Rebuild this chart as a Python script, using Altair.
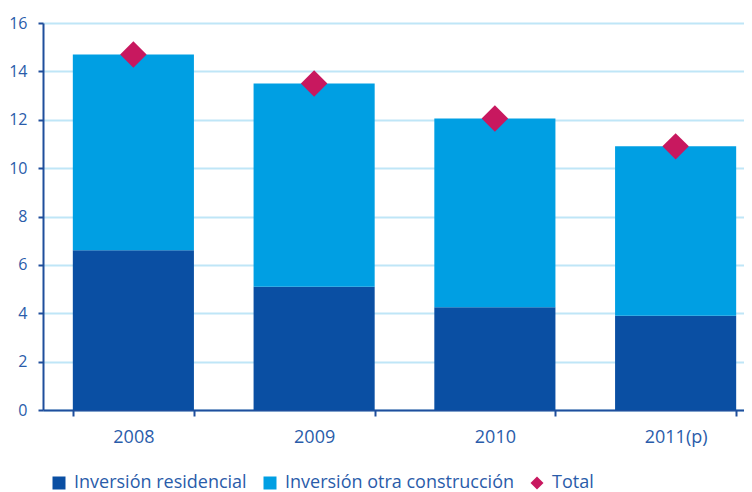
import altair as alt
import pandas as pd

years = ["2008", "2009", "2010", "2011(p)"]
residencial = [6.6, 5.1, 4.25, 3.9]
otra = [8.1, 8.4, 7.8, 7.0]
total = [14.7, 13.5, 12.05, 10.9]
series = ["Inversión residencial", "Inversión otra construcción", "Total"]
colors = ["#0a4fa3", "#009fe3", "#c8185f"]
shapes = ["square", "square", "diamond"]

rows = []
for i, y in enumerate(years):
    rows.append({"year": y, "serie": series[0], "value": residencial[i], "ord": 0})
    rows.append({"year": y, "serie": series[1], "value": otra[i], "ord": 1})
bars_df = pd.DataFrame(rows)
tot_df = pd.DataFrame({"year": years, "serie": [series[2]] * len(years), "value": total})

label_color = "#2a5caa"
axis_color = "#1f4e9c"

color_scale = alt.Scale(domain=series, range=colors)
shape_scale = alt.Scale(domain=series, range=shapes)

x_enc = alt.X("year:N", sort=years, title=None,
              scale=alt.Scale(paddingInner=0.33, paddingOuter=0.165, range=[0, 723]),
              axis=alt.Axis(labelAngle=0, tickBand="extent", labelFontSize=18,
                            labelPadding=12, tickSize=6))
legend = alt.Legend(title=None, orient="none", direction="horizontal",
                    legendX=7, legendY=451, symbolSize=169,
                    labelFontSize=18, labelColor=label_color, labelFont="Open Sans",
                    labelOffset=6, columnPadding=14, symbolStrokeWidth=0,
                    labelLimit=400)

bars = alt.Chart(bars_df).mark_bar().encode(
    x=x_enc,
    y=alt.Y("value:Q", stack="zero", title=None,
            scale=alt.Scale(domain=[0, 16], nice=False),
            axis=alt.Axis(values=[0, 2, 4, 6, 8, 10, 12, 14, 16], labelFontSize=16,
                          labelPadding=11, tickSize=5)),
    color=alt.Color("serie:N", scale=color_scale, legend=legend),
    shape=alt.Shape("serie:N", scale=shape_scale, legend=legend),
    order=alt.Order("ord:Q"),
)

points = alt.Chart(tot_df).mark_point(filled=True, opacity=1, size=700).encode(
    x=alt.X("year:N", sort=years),
    y=alt.Y("value:Q"),
    color=alt.Color("serie:N", scale=color_scale, legend=legend),
    shape=alt.Shape("serie:N", scale=shape_scale, legend=legend),
)

chart = alt.layer(bars, points).properties(
    width=701, height=387,
    autosize=alt.AutoSizeParams(type="none"),
    padding={"left": 35, "top": 15, "right": 0, "bottom": 82},
).configure_view(stroke=None).configure_axis(
    labelFont="Open Sans", labelColor=label_color,
    domainColor=axis_color, domainWidth=2, tickColor=axis_color, tickWidth=2,
    gridColor="#bfe6f7", gridWidth=2,
).configure_axisX(grid=False).configure_axisY(grid=True)

chart.save("out.html", embed_options={"renderer": "svg", "actions": False})
